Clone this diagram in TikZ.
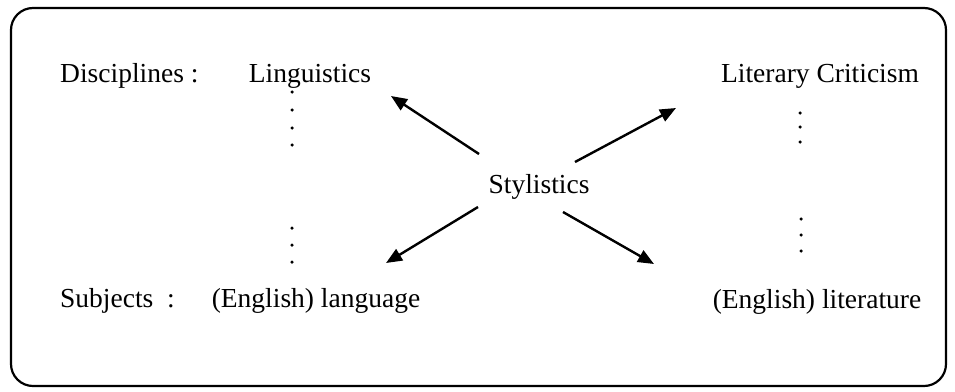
\documentclass[tikz,border=0pt]{standalone}
\usepackage{fontspec}
\setmainfont{Liberation Serif}
\usetikzlibrary{arrows.meta}
\begin{document}
\begin{tikzpicture}[x=1pt,y=-1pt,
  lbl/.style={inner sep=0pt,font=\fontsize{27.5}{30}\selectfont,anchor=base},
  lbll/.style={lbl,anchor=base west},
  arr/.style={line width=2.4pt,-{Triangle[length=16pt,width=13pt]}},
  dot/.style={circle,fill=black,inner sep=0pt,minimum size=3.5pt}]
\useasboundingbox (0,0) rectangle (955,391);
% frame
\draw[line width=2.2pt,rounded corners=22pt] (11,8) rectangle (946,386);
% row labels
\node[lbll] (disc) at (60,82) {Disciplines :};
\node[lbll] (subj) at (60,307) {Subjects \ :};
% disciplines and subjects
\node[lbl] (ling) at (310,82) {Linguistics};
\node[lbl] (lit) at (820,82) {Literary Criticism};
\node[lbl] (lang) at (316,307) {(English) language};
\node[lbl] (eng) at (817,308) {(English) literature};
\node[lbl] (sty) at (539,193) {Stylistics};
% vertical dots
\foreach \yy [count=\i] in {92,110,128,145} \node[dot] (dl\i) at (292,\yy) {};
\foreach \yy [count=\i] in {113,127,142} \node[dot] (dr\i) at (800,\yy) {};
\foreach \yy [count=\i] in {228,245,262} \node[dot] (bl\i) at (292,\yy) {};
\foreach \yy [count=\i] in {219,235,251} \node[dot] (br\i) at (801,\yy) {};
% arrow ends
\coordinate (s1) at (479,154);
\coordinate (t1) at (391,96);
\coordinate (s2) at (575,162);
\coordinate (t2) at (676,108);
\coordinate (s3) at (478,207);
\coordinate (t3) at (386,263);
\coordinate (s4) at (563,212);
\coordinate (t4) at (654,264);
\draw[arr] (s1) -- (t1);
\draw[arr] (s2) -- (t2);
\draw[arr] (s3) -- (t3);
\draw[arr] (s4) -- (t4);
\end{tikzpicture}
\end{document}
